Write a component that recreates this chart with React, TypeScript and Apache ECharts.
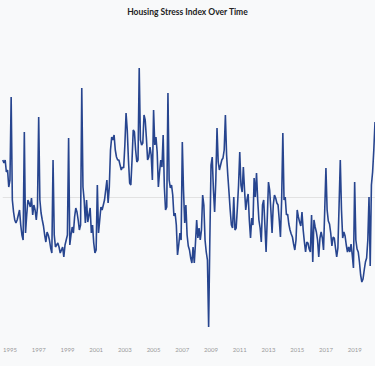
import React, { useEffect, useRef } from 'react';
import * as echarts from 'echarts';

const START_YEAR = 1994;
const START_MONTH = 7;

const stressIndex: number[] = [
  0.37, 0.34, 0.37, 0.25, 0.27, 0.10, 0.17, 1.00, -0.03, -0.15,
  -0.23, -0.26, -0.23, -0.18, -0.13, -0.28, -0.38, -0.43, 0.65, -0.36,
  -0.18, -0.03, -0.06, -0.10, -0.01, -0.18, -0.08, -0.13, -0.23, -0.10,
  0.80, -0.03, -0.16, -0.23, -0.29, -0.38, -0.45, -0.35, -0.38, -0.43,
  -0.51, -0.56, 0.37, -0.38, -0.50, -0.48, -0.46, -0.50, -0.56, -0.53,
  -0.50, -0.60, -0.48, -0.43, -0.38, 0.59, -0.48, -0.38, -0.30, -0.36,
  -0.20, -0.11, -0.15, -0.23, -0.33, -0.28, 1.09, 0.10, -0.03, -0.26,
  -0.03, -0.25, -0.18, -0.11, -0.36, -0.28, -0.46, -0.56, -0.53, 0.12,
  -0.36, -0.23, -0.10, -0.13, -0.08, -0.03, 0.07, 0.17, -0.06, 0.10,
  0.47, 0.60, 0.57, 0.62, 0.47, 0.40, 0.37, 0.37, 0.32, 0.27,
  0.30, 0.29, 0.52, 0.84, 0.67, 0.37, 0.14, 0.12, 0.37, 0.67,
  0.65, 0.47, 0.35, 0.37, 1.29, 0.57, 0.52, 0.54, 0.82, 0.77,
  0.59, 0.37, 0.40, 0.50, 0.42, 0.17, 0.87, 0.52, 0.60, 0.45,
  0.10, 0.25, 0.37, 0.30, 0.62, 0.10, -0.13, -0.10, 1.04, 0.17,
  0.09, 0.12, 0.02, -0.19, -0.16, -0.28, -0.58, -0.48, -0.36, -0.43,
  0.55, 0.07, -0.26, -0.08, -0.38, -0.49, -0.53, -0.61, -0.66, -0.50,
  -0.66, -0.46, -0.23, -0.41, -0.31, -0.43, -0.33, 0.02, -0.08, -0.43,
  -0.55, -0.63, -1.30, -0.43, 0.32, 0.40, 0.07, -0.15, 0.17, 0.69,
  0.35, 0.27, 0.32, 0.37, 0.39, 0.47, 0.82, 0.42, 0.22, 0.05,
  -0.13, -0.28, -0.31, 0.00, -0.33, -0.31, -0.11, 0.12, 0.45, 0.12,
  0.05, 0.30, 0.07, -0.13, -0.03, 0.03, -0.23, -0.41, -0.21, -0.28,
  0.19, 0.00, 0.24, -0.03, -0.23, -0.31, -0.45, -0.08, -0.03, -0.28,
  -0.55, -0.21, 0.15, 0.07, -0.13, -0.36, -0.08, 0.02, -0.01, -0.06,
  -0.08, -0.23, -0.40, -0.03, 0.64, -0.03, 0.00, -0.18, -0.17, -0.27,
  -0.33, -0.37, -0.40, -0.47, -0.53, -0.43, -0.13, -0.20, -0.25, -0.29,
  -0.15, -0.33, -0.45, -0.55, -0.45, -0.46, -0.52, -0.55, -0.18, -0.65,
  -0.23, -0.30, -0.35, -0.43, -0.60, -0.41, -0.35, -0.41, -0.53, -0.13,
  0.29, -0.13, -0.24, -0.27, -0.36, -0.49, -0.40, -0.41, -0.51, -0.60,
  -0.51, -0.08, 0.37, -0.13, -0.41, -0.35, -0.39, -0.48, -0.55, -0.50,
  -0.55, -0.47, -0.58, -0.71, 0.15, -0.43, -0.52, -0.55, -0.65, -0.78,
  -0.85, -0.82, -0.73, -0.65, -0.61, -0.43, 0.00, -0.69, 0.12, 0.25,
  0.47, 0.75,
];

const months: string[] = stressIndex.map((_, i) => {
  const m = START_MONTH - 1 + i;
  const y = START_YEAR + Math.floor(m / 12);
  return `${y}-${String((m % 12) + 1).padStart(2, '0')}`;
});

const tickYears = ['1995', '1997', '1999', '2001', '2003', '2005', '2007', '2009', '2011', '2013', '2015', '2017', '2019'];

const referenceLevel = 0;

export default function App() {
  const ref = useRef<HTMLDivElement>(null);
  useEffect(() => {
    document.body.style.margin = '0';
    const chart = echarts.init(ref.current!, null, { renderer: 'svg' });
    chart.setOption({
      animation: false,
      backgroundColor: '#f8f9fa',
      title: {
        text: 'Housing Stress Index Over Time',
        left: 'center',
        top: 2,
        textStyle: { fontSize: 8.5, fontWeight: 'bold', color: '#222', fontFamily: 'Lato' },
      },
      grid: { left: 0, right: 0, top: 57, bottom: 29 },
      xAxis: {
        type: 'category',
        data: months,
        boundaryGap: false,
        axisLine: { show: false },
        axisTick: { show: false },
        splitLine: { show: false },
        axisLabel: {
          interval: (_idx: number, val: string) => val.endsWith('-01') && tickYears.includes(val.slice(0, 4)),
          formatter: (val: string) => val.slice(0, 4),
          color: '#9a9a9a',
          fontSize: 6,
          margin: 9,
          fontFamily: 'Lato',
        },
      },
      yAxis: {
        type: 'value',
        min: -1.4,
        max: 1.4,
        show: false,
        splitLine: { show: false },
      },
      series: [
        {
          type: 'line',
          data: stressIndex,
          symbol: 'none',
          lineStyle: { color: '#27458f', width: 1.6 },
          itemStyle: { color: '#27458f' },
          markLine: {
            silent: true,
            z: 1,
            symbol: ['none', 'none'],
            label: { show: false },
            lineStyle: { color: '#e2e2e2', type: 'solid', width: 1 },
            data: [{ yAxis: referenceLevel }],
          },
        },
      ],
    });
    return () => chart.dispose();
  }, []);
  return <div ref={ref} style={{ width: 375, height: 366 }} />;
}
